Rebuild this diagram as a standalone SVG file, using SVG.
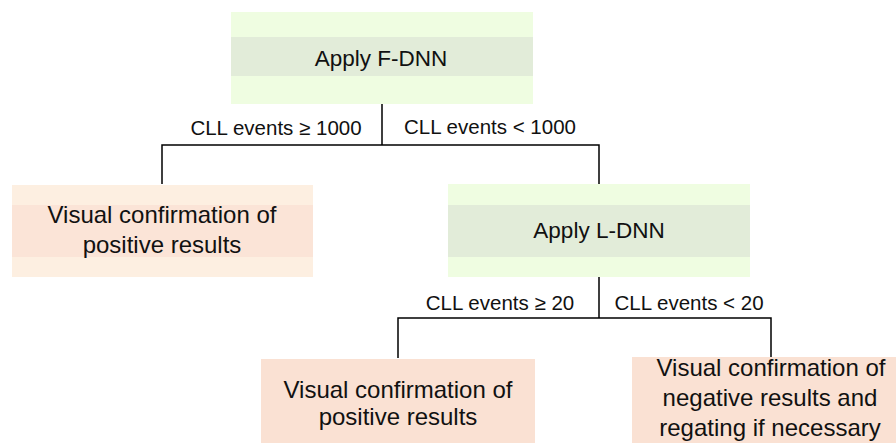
<svg xmlns="http://www.w3.org/2000/svg" width="896" height="443" viewBox="0 0 896 443">
<style>
text{font-family:"Liberation Sans",Arial,sans-serif;fill:#111;text-anchor:middle}
.lbl{font-size:20.5px}
.big{font-size:24px}
.app{font-size:22.5px}
.g-out{fill:#effde1}
.g-band{fill:#e2ecd9}
.p-out{fill:#fdefe1}
.p-band{fill:#fbe4d7}
.p-solid{fill:#fae1d3}
.conn{fill:none;stroke:#000;stroke-width:1.5}
</style>
<rect width="896" height="443" fill="#fff"/>
<g id="connectors">
<path class="conn" d="M382 104V145M162 184V145H599V184"/>
<path class="conn" d="M599 277V318M398 358V318H771V357"/>
</g>
<g id="labels">
<text class="lbl" x="276" y="135">CLL events ≥ 1000</text>
<text class="lbl" x="490" y="134">CLL events &lt; 1000</text>
<text class="lbl" x="500" y="310">CLL events ≥ 20</text>
<text class="lbl" x="689" y="310">CLL events &lt; 20</text>
</g>
<g id="node-fdnn">
<rect class="g-out" x="231" y="12" width="302" height="92"/>
<rect class="g-band" x="231" y="37" width="302" height="39"/>
<text class="app" x="381" y="66">Apply F-DNN</text>
</g>
<g id="node-pos1">
<rect class="p-out" x="12" y="185" width="301" height="92"/>
<rect class="p-band" x="12" y="205" width="301" height="52"/>
<text class="big" x="162" y="223">Visual confirmation of</text>
<text class="big" x="162" y="253">positive results</text>
</g>
<g id="node-ldnn">
<rect class="g-out" x="448" y="184" width="302" height="93"/>
<rect class="g-band" x="448" y="205" width="302" height="52"/>
<text class="app" x="599" y="238">Apply L-DNN</text>
</g>
<g id="node-pos2">
<rect class="p-solid" x="261" y="359" width="274" height="84"/>
<text class="big" x="398" y="398">Visual confirmation of</text>
<text class="big" x="398" y="425">positive results</text>
</g>
<g id="node-neg">
<rect class="p-solid" x="632" y="357" width="264" height="86"/>
<text class="big" x="771" y="376">Visual confirmation of</text>
<text class="big" x="770" y="406">negative results and</text>
<text class="big" x="770" y="436">regating if necessary</text>
</g>
</svg>
